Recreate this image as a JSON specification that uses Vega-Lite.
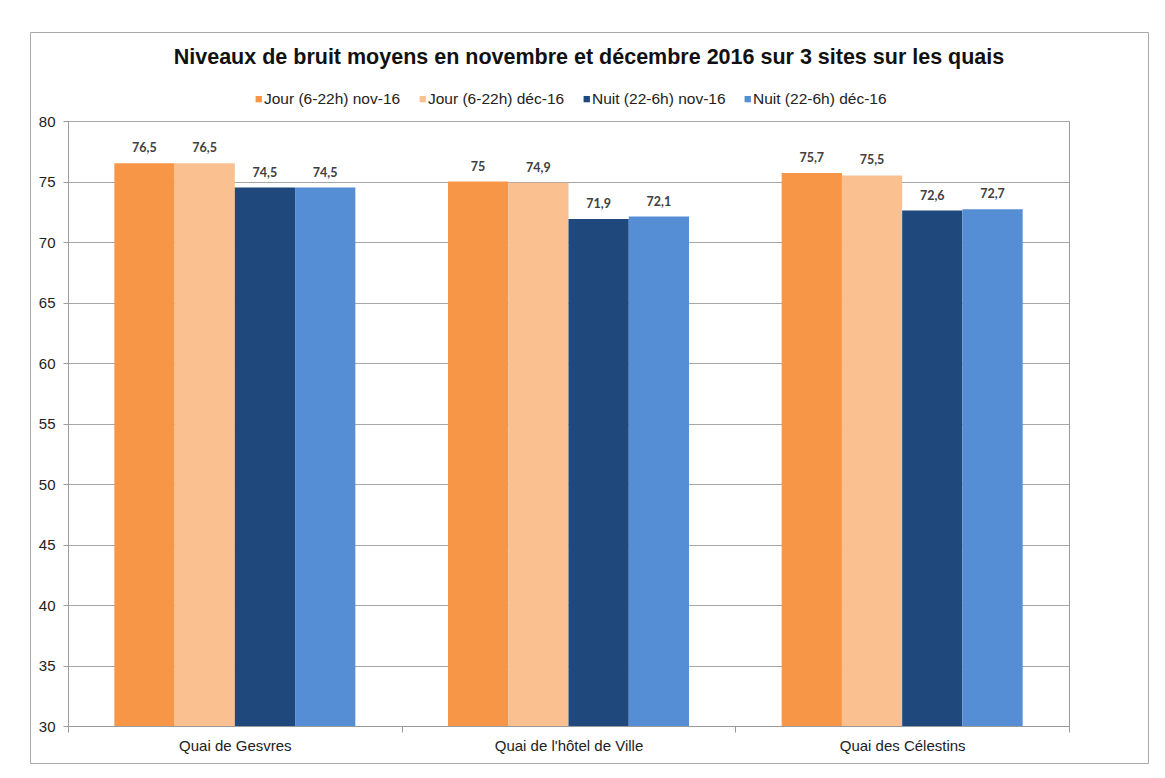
{
  "$schema": "https://vega.github.io/schema/vega-lite/v6.json",
  "width": 1118,
  "height": 731,
  "autosize": {"type": "none"},
  "padding": {"left": 30, "top": 32, "right": 17, "bottom": 15},
  "background": "white",
  "config": {
    "locale": {"number": {"decimal": ",", "thousands": " ", "grouping": [3], "currency": ["", " €"]}},
    "view": {"stroke": "#a9a9a9", "strokeWidth": 1, "fill": "white"},
    "font": "Liberation Sans"
  },
  "title": {
    "text": "Niveaux de bruit moyens en novembre et décembre 2016 sur 3 sites sur les quais",
    "font": "Liberation Sans",
    "fontSize": 21.5,
    "fontWeight": "bold",
    "color": "#111111",
    "anchor": "middle",
    "frame": "group",
    "offset": -36
  },
  "data": {
    "values": [
      {"site": "Quai de Gesvres", "serie": "Jour (6-22h) nov-16", "niveau": 76.5},
      {"site": "Quai de Gesvres", "serie": "Jour (6-22h) déc-16", "niveau": 76.5},
      {"site": "Quai de Gesvres", "serie": "Nuit (22-6h) nov-16", "niveau": 74.5},
      {"site": "Quai de Gesvres", "serie": "Nuit (22-6h) déc-16", "niveau": 74.5},
      {"site": "Quai de l'hôtel de Ville", "serie": "Jour (6-22h) nov-16", "niveau": 75},
      {"site": "Quai de l'hôtel de Ville", "serie": "Jour (6-22h) déc-16", "niveau": 74.9},
      {"site": "Quai de l'hôtel de Ville", "serie": "Nuit (22-6h) nov-16", "niveau": 71.9},
      {"site": "Quai de l'hôtel de Ville", "serie": "Nuit (22-6h) déc-16", "niveau": 72.1},
      {"site": "Quai des Célestins", "serie": "Jour (6-22h) nov-16", "niveau": 75.7},
      {"site": "Quai des Célestins", "serie": "Jour (6-22h) déc-16", "niveau": 75.5},
      {"site": "Quai des Célestins", "serie": "Nuit (22-6h) nov-16", "niveau": 72.6},
      {"site": "Quai des Célestins", "serie": "Nuit (22-6h) déc-16", "niveau": 72.7}
    ]
  },
  "encoding": {
    "x": {
      "field": "site",
      "type": "nominal",
      "sort": ["Quai de Gesvres", "Quai de l'hôtel de Ville", "Quai des Célestins"],
      "scale": {"range": [38, 1039], "paddingInner": 0, "paddingOuter": 0},
      "axis": {
        "title": null,
        "orient": "bottom",
        "offset": -37,
        "tickBand": "extent",
        "labelAngle": 0,
        "labelFont": "Liberation Sans",
        "labelFontSize": 15,
        "labelColor": "#222222",
        "labelPadding": 6,
        "tickSize": 6,
        "tickColor": "#9a9a9a",
        "domainColor": "#9a9a9a",
        "grid": false
      }
    },
    "xOffset": {
      "field": "serie",
      "type": "nominal",
      "sort": ["Jour (6-22h) nov-16", "Jour (6-22h) déc-16", "Nuit (22-6h) nov-16", "Nuit (22-6h) déc-16"],
      "scale": {"paddingInner": 0, "paddingOuter": 0.769}
    }
  },
  "layer": [
    {
      "mark": {"type": "bar"},
      "encoding": {
        "y": {
          "field": "niveau",
          "type": "quantitative",
          "scale": {"domain": [30, 80], "range": [694, 89], "zero": false, "nice": false},
          "axis": {
            "title": null,
            "orient": "left",
            "offset": -38,
            "values": [30, 35, 40, 45, 50, 55, 60, 65, 70, 75, 80],
            "tickSize": 5,
            "labelPadding": 8,
            "labelFont": "Liberation Sans",
            "labelFontSize": 15,
            "labelColor": "#222222",
            "grid": true,
            "gridColor": "#a6a6a6",
            "domainColor": "#9a9a9a",
            "tickColor": "#9a9a9a"
          }
        },
        "y2": {"datum": 30},
        "color": {
          "field": "serie",
          "type": "nominal",
          "scale": {
            "domain": ["Jour (6-22h) nov-16", "Jour (6-22h) déc-16", "Nuit (22-6h) nov-16", "Nuit (22-6h) déc-16"],
            "range": ["#F79646", "#FAC090", "#1F497D", "#558ED5"]
          },
          "legend": {
            "title": null,
            "orient": "none",
            "legendX": 221,
            "legendY": 59,
            "direction": "horizontal",
            "columns": 4,
            "padding": 0,
            "symbolType": "square",
            "symbolSize": 40,
            "symbolStrokeWidth": 0,
            "labelFont": "Liberation Sans",
            "labelFontSize": 15.5,
            "labelColor": "#222222",
            "labelOffset": -2.5,
            "columnPadding": 14
          }
        }
      }
    },
    {
      "mark": {
        "type": "text",
        "baseline": "alphabetic",
        "dy": -11,
        "font": "Lato",
        "fontSize": 12.5,
        "fontWeight": "bold",
        "fill": "#404040"
      },
      "encoding": {
        "y": {
          "field": "niveau",
          "type": "quantitative",
          "axis": {
            "title": null,
            "orient": "right",
            "offset": -79,
            "labels": false,
            "ticks": false,
            "grid": false,
            "domain": true,
            "domainColor": "#9a9a9a"
          }
        },
        "text": {"field": "niveau", "type": "quantitative", "format": ".1~f"}
      }
    }
  ],
  "resolve": {"axis": {"y": "independent"}}
}
